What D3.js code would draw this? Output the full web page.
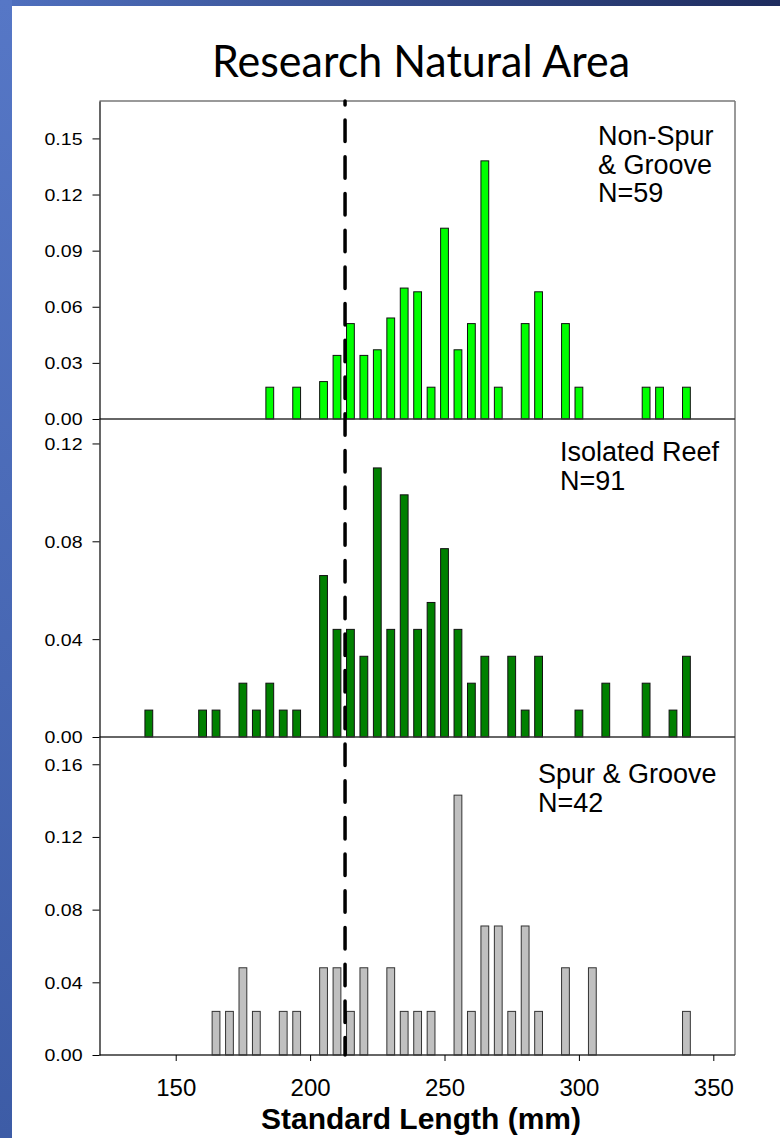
<!DOCTYPE html>
<html>
<head>
<meta charset="utf-8">
<script src="https://cdn.jsdelivr.net/npm/d3@7"></script>
<style>
  body { margin: 0; background: #fff; }
  svg { display: block; }
</style>
</head>
<body>
<div id="chart"></div>
<script>
// ---- data (proportion of fish per 5 mm bin) ----
var chartTitle = "Research Natural Area";
var xLabel = "Standard Length (mm)";
var xTicks = [150, 200, 250, 300, 350];
var meanLine = 213;

var nonSpurLabel = ["Non-Spur", "& Groove", "N=59"];
var nonSpurLen = [185, 195, 205, 210, 215, 220, 225, 230, 235, 240, 245, 250, 255, 260, 265, 270, 280, 285, 295, 300, 325, 330, 340];
var nonSpurVal = [0.017, 0.017, 0.020, 0.034, 0.051, 0.034, 0.037, 0.054, 0.070, 0.068, 0.017, 0.102, 0.037, 0.051, 0.138, 0.017, 0.051, 0.068, 0.051, 0.017, 0.017, 0.017, 0.017];
var nonSpurTicks = [0, 0.03, 0.06, 0.09, 0.12, 0.15];

var isolatedLabel = ["Isolated Reef", "N=91"];
var isolatedLen = [140, 160, 165, 175, 180, 185, 190, 195, 205, 210, 215, 220, 225, 230, 235, 240, 245, 250, 255, 260, 265, 275, 280, 285, 300, 310, 325, 335, 340];
var isolatedVal = [0.011, 0.011, 0.011, 0.022, 0.011, 0.022, 0.011, 0.011, 0.066, 0.044, 0.044, 0.033, 0.110, 0.044, 0.099, 0.044, 0.055, 0.077, 0.044, 0.022, 0.033, 0.033, 0.011, 0.033, 0.011, 0.022, 0.022, 0.011, 0.033];
var isolatedTicks = [0, 0.04, 0.08, 0.12];

var spurLabel = ["Spur & Groove", "N=42"];
var spurLen = [165, 170, 175, 180, 190, 195, 205, 210, 215, 220, 230, 235, 240, 245, 255, 260, 265, 270, 275, 280, 285, 295, 305, 340];
var spurVal = [0.024, 0.024, 0.048, 0.024, 0.024, 0.024, 0.048, 0.048, 0.024, 0.048, 0.048, 0.024, 0.024, 0.024, 0.143, 0.024, 0.071, 0.071, 0.024, 0.071, 0.024, 0.048, 0.048, 0.024];
var spurTicks = [0, 0.04, 0.08, 0.12, 0.16];

;(function(){

	// ---- layout ----
	var w = 780, h = 1138;
	var left = 99.5, right = 735, plotTop = 101;
	var panelH = 318;
	var font = "'Liberation Sans', Arial, sans-serif";

	var panels = [
		{ len: nonSpurLen, val: nonSpurVal, ticks: nonSpurTicks, ymax: 0.17, fill: "#00ff00", stroke: "#111", label: nonSpurLabel, lx: 598, ly: 145 },
		{ len: isolatedLen, val: isolatedVal, ticks: isolatedTicks, ymax: 0.13, fill: "#008000", stroke: "#111", label: isolatedLabel, lx: 560, ly: 461 },
		{ len: spurLen, val: spurVal, ticks: spurTicks, ymax: 0.175, fill: "#c0c0c0", stroke: "#333", label: spurLabel, lx: 538, ly: 783 }
	];

	var svg = d3.select("#chart").append("svg")
		.attr("width", w)
		.attr("height", h);

	// slide background frame
	var defs = svg.append("defs");
	var gTop = defs.append("linearGradient").attr("id", "topBand").attr("x1", 0).attr("x2", 1).attr("y1", 0).attr("y2", 0);
	gTop.append("stop").attr("offset", 0).attr("stop-color", "#4f70bf");
	gTop.append("stop").attr("offset", 1).attr("stop-color", "#1e2c5e");
	var gLeft = defs.append("linearGradient").attr("id", "leftBand").attr("x1", 0).attr("x2", 0).attr("y1", 0).attr("y2", 1);
	gLeft.append("stop").attr("offset", 0).attr("stop-color", "#5677c6");
	gLeft.append("stop").attr("offset", 1).attr("stop-color", "#3d5ca6");

	svg.append("rect").attr("x", 0).attr("y", 0).attr("width", w).attr("height", h).attr("fill", "#fff");
	svg.append("rect").attr("x", 0).attr("y", 0).attr("width", w).attr("height", 6).attr("fill", "url(#topBand)");
	svg.append("rect").attr("x", 0).attr("y", 0).attr("width", 12).attr("height", h).attr("fill", "url(#leftBand)");

	// title
	svg.append("text")
		.attr("x", 421)
		.attr("y", 77)
		.attr("text-anchor", "middle")
		.attr("font-family", "Lato, 'Open Sans', sans-serif")
		.attr("font-size", 44)
		.attr("textLength", 418)
		.attr("lengthAdjust", "spacingAndGlyphs")
		.attr("fill", "#000")
		.text(chartTitle);

	var xscale = d3.scaleLinear()
		.domain([121.65, 358.07])
		.range([left, right]);

	var barW = 2.9; // bar width in mm
	var bottom = plotTop + panelH * panels.length;

	// outer frame: top and right edges
	svg.append("line")
		.attr("x1", left).attr("x2", right).attr("y1", plotTop).attr("y2", plotTop)
		.attr("stroke", "#777").attr("stroke-width", 1.5);
	svg.append("line")
		.attr("x1", right).attr("x2", right).attr("y1", plotTop).attr("y2", bottom)
		.attr("stroke", "#777").attr("stroke-width", 1.5);

	panels.forEach(function(p, i) {
		var y0 = plotTop + panelH * i;
		var y1 = y0 + panelH;

		var yscale = d3.scaleLinear()
			.domain([0, p.ymax])
			.range([y1, y0]);

		var g = svg.append("g");

		// bars
		g.selectAll("rect.bar")
			.data(p.len)
			.enter().append("rect")
			.attr("class", "bar")
			.attr("x", function(d) { return xscale(d - barW / 2); })
			.attr("width", function(d) { return xscale(d + barW / 2) - xscale(d - barW / 2); })
			.attr("y", function(d, j) { return yscale(p.val[j]); })
			.attr("height", function(d, j) { return y1 - yscale(p.val[j]); })
			.attr("fill", p.fill)
			.attr("stroke", p.stroke)
			.attr("stroke-width", 1);

		// baseline of the panel
		g.append("line")
			.attr("x1", left).attr("x2", right).attr("y1", y1).attr("y2", y1)
			.attr("stroke", "#333").attr("stroke-width", 1.5);

		// y axis
		var yaxis = d3.axisLeft(yscale)
			.tickValues(p.ticks)
			.tickFormat(d3.format(".2f"))
			.tickSize(7)
			.tickSizeOuter(0)
			.tickPadding(10);

		var gY = g.append("g")
			.attr("transform", "translate(" + left + ",0)")
			.call(yaxis);
		gY.select(".domain").attr("stroke", "#000").attr("stroke-width", 1.2);
		gY.selectAll(".tick line").attr("stroke", "#000");
		gY.selectAll(".tick text")
			.attr("font-family", font)
			.attr("font-size", 17)
			.attr("fill", "#000")
			.attr("dy", "0.35em")
			.attr("textLength", 38)
			.attr("lengthAdjust", "spacingAndGlyphs");

		// panel label
		var t = g.append("text")
			.attr("font-family", font)
			.attr("font-size", 27)
			.attr("fill", "#000");
		p.label.forEach(function(s, k) {
			t.append("tspan")
				.attr("x", p.lx)
				.attr("y", p.ly + k * 28.5)
				.text(s);
		});
	});

	// x axis on the bottom panel
	var xaxis = d3.axisBottom(xscale)
		.tickValues(xTicks)
		.tickSize(6)
		.tickSizeOuter(0);

	var gX = svg.append("g")
		.attr("transform", "translate(0," + bottom + ")")
		.call(xaxis);
	gX.select(".domain").remove();
	gX.selectAll(".tick line").attr("stroke", "#000");
	gX.selectAll(".tick text")
		.attr("font-family", font)
		.attr("font-size", 24)
		.attr("fill", "#000")
		.attr("y", 40.7)
		.attr("dy", "0");

	svg.append("text")
		.attr("x", 421)
		.attr("y", 1129)
		.attr("text-anchor", "middle")
		.attr("font-family", font)
		.attr("font-size", 30)
		.attr("font-weight", "bold")
		.attr("fill", "#000")
		.text(xLabel);

	// dashed reference line
	svg.append("line")
		.attr("x1", xscale(meanLine)).attr("x2", xscale(meanLine))
		.attr("y1", plotTop).attr("y2", bottom)
		.attr("stroke", "#000")
		.attr("stroke-width", 3.5)
		.attr("stroke-linecap", "round")
		.attr("stroke-dasharray", "21.5,15.2")
		.attr("stroke-dashoffset", 17.6);

})();
</script>
</body>
</html>
